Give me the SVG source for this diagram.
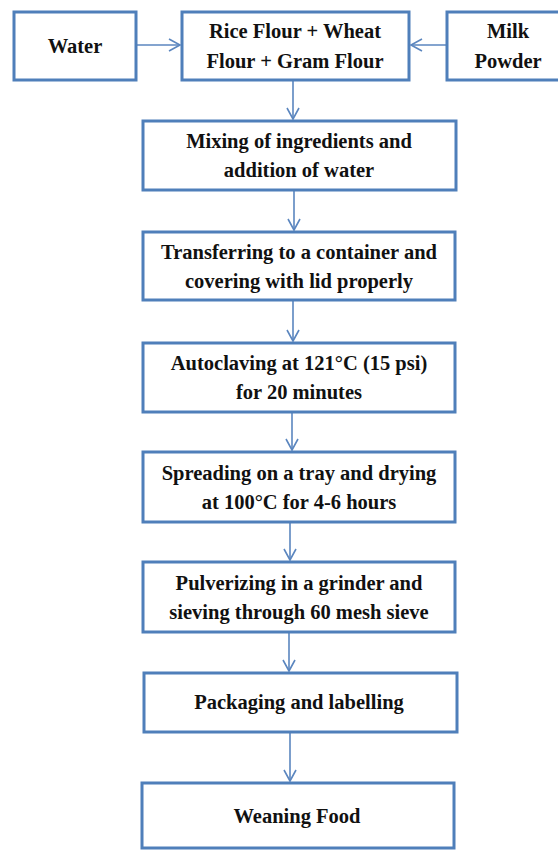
<svg xmlns="http://www.w3.org/2000/svg" width="558" height="850" viewBox="0 0 558 850">
<defs>
<style>
.box{fill:#fff;stroke:#4f7fba;stroke-width:3}
.t{font-family:"Liberation Serif","Times New Roman",serif;font-weight:bold;font-size:20.5px;fill:#111;text-anchor:middle}
.c{stroke:#5b86bf;stroke-width:1.6;fill:none}
</style>
<marker id="ah" markerWidth="14" markerHeight="14" refX="12" refY="7" orient="auto" markerUnits="userSpaceOnUse">
<path d="M1,1 L12,7 L1,13" fill="none" stroke="#5b86bf" stroke-width="1.6"/>
</marker>
</defs>
<rect width="558" height="850" fill="#fff"/>
<g id="connectors">
<line class="c" x1="136" y1="45" x2="180" y2="45" marker-end="url(#ah)"/>
<line class="c" x1="447" y1="45" x2="411" y2="45" marker-end="url(#ah)"/>
<line class="c" x1="293" y1="81" x2="293" y2="119" marker-end="url(#ah)"/>
<line class="c" x1="294" y1="191" x2="294" y2="230" marker-end="url(#ah)"/>
<line class="c" x1="293" y1="301" x2="293" y2="341" marker-end="url(#ah)"/>
<line class="c" x1="292" y1="413" x2="292" y2="450" marker-end="url(#ah)"/>
<line class="c" x1="290" y1="523" x2="290" y2="560" marker-end="url(#ah)"/>
<line class="c" x1="289" y1="633" x2="289" y2="671" marker-end="url(#ah)"/>
<line class="c" x1="290" y1="733" x2="290" y2="781" marker-end="url(#ah)"/>
</g>
<g id="water"><rect class="box" x="14" y="12" width="122" height="68"/><text class="t" x="75" y="53">Water</text></g>
<g id="flours"><rect class="box" x="182" y="12" width="227" height="68"/><text class="t" x="295" y="38">Rice Flour + Wheat</text><text class="t" x="295" y="68">Flour + Gram Flour</text></g>
<g id="milk"><rect class="box" x="447" y="12" width="122" height="68"/><text class="t" x="508" y="38">Milk</text><text class="t" x="508" y="68">Powder</text></g>
<g id="mixing"><rect class="box" x="143" y="121" width="313" height="69"/><text class="t" x="299" y="148">Mixing of ingredients and</text><text class="t" x="299" y="177">addition of water</text></g>
<g id="transferring"><rect class="box" x="143" y="232" width="312" height="68"/><text class="t" x="299" y="259">Transferring to a container and</text><text class="t" x="299" y="288">covering with lid properly</text></g>
<g id="autoclaving"><rect class="box" x="143" y="343" width="312" height="69"/><text class="t" x="299" y="370">Autoclaving at 121°C (15 psi)</text><text class="t" x="299" y="399">for 20 minutes</text></g>
<g id="spreading"><rect class="box" x="143" y="452" width="312" height="70"/><text class="t" x="299" y="480">Spreading on a tray and drying</text><text class="t" x="299" y="509">at 100°C for 4-6 hours</text></g>
<g id="pulverizing"><rect class="box" x="143" y="562" width="312" height="70"/><text class="t" x="299" y="590">Pulverizing in a grinder and</text><text class="t" x="299" y="619">sieving through 60 mesh sieve</text></g>
<g id="packaging"><rect class="box" x="144" y="673" width="313" height="59"/><text class="t" x="299" y="709">Packaging and labelling</text></g>
<g id="weaning"><rect class="box" x="142" y="783" width="312" height="65"/><text class="t" x="297" y="823">Weaning Food</text></g>
</svg>
